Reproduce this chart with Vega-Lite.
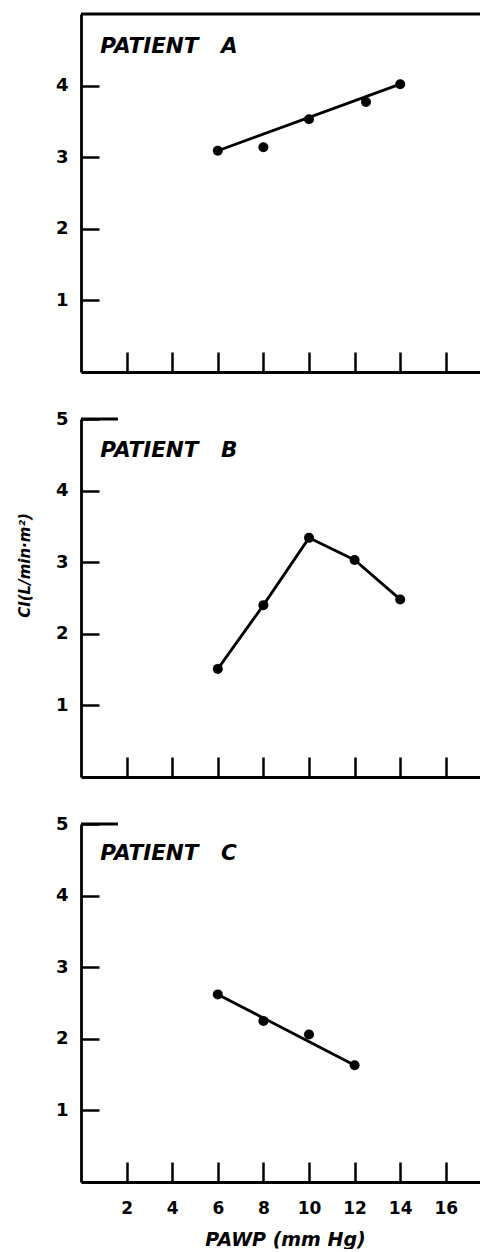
{
  "$schema": "https://vega.github.io/schema/vega-lite/v6.json",
  "background": "white",
  "padding": {"left": 17, "top": 12, "right": 0, "bottom": 0},
  "spacing": 47,
  "bounds": "flush",
  "datasets": {
    "points": [
      {"patient": "A", "pawp": 6, "ci": 3.09},
      {"patient": "A", "pawp": 8, "ci": 3.14},
      {"patient": "A", "pawp": 10, "ci": 3.53},
      {"patient": "A", "pawp": 12.5, "ci": 3.77},
      {"patient": "A", "pawp": 14, "ci": 4.02},
      {"patient": "B", "pawp": 6, "ci": 1.51},
      {"patient": "B", "pawp": 8, "ci": 2.40},
      {"patient": "B", "pawp": 10, "ci": 3.34},
      {"patient": "B", "pawp": 12, "ci": 3.03},
      {"patient": "B", "pawp": 14, "ci": 2.48},
      {"patient": "C", "pawp": 6, "ci": 2.62},
      {"patient": "C", "pawp": 8, "ci": 2.25},
      {"patient": "C", "pawp": 10, "ci": 2.06},
      {"patient": "C", "pawp": 12, "ci": 1.63}
    ],
    "lines": [
      {"patient": "A", "pawp": 6, "ci": 3.09},
      {"patient": "A", "pawp": 14, "ci": 4.02},
      {"patient": "B", "pawp": 6, "ci": 1.51},
      {"patient": "B", "pawp": 8, "ci": 2.40},
      {"patient": "B", "pawp": 10, "ci": 3.34},
      {"patient": "B", "pawp": 12, "ci": 3.03},
      {"patient": "B", "pawp": 14, "ci": 2.48},
      {"patient": "C", "pawp": 6, "ci": 2.62},
      {"patient": "C", "pawp": 12, "ci": 1.63}
    ],
    "labels": [
      {"patient": "A", "label": "PATIENT\u00a0\u00a0\u00a0A"},
      {"patient": "B", "label": "PATIENT\u00a0\u00a0\u00a0B"},
      {"patient": "C", "label": "PATIENT\u00a0\u00a0\u00a0C"}
    ]
  },
  "vconcat": [
    {
      "width": 399,
      "height": 358,
      "layer": [
        {
          "data": {"name": "lines"},
          "transform": [{"filter": "datum.patient === 'A'"}],
          "mark": {"type": "line", "color": "black", "strokeWidth": 2.8},
          "encoding": {
            "x": {"field": "pawp", "type": "quantitative", "scale": {"domain": [0, 17.5], "nice": false, "zero": false},
                  "axis": {"values": [2, 4, 6, 8, 10, 12, 14, 16], "labels": false, "title": null}},
            "y": {"field": "ci", "type": "quantitative", "scale": {"domain": [0, 5], "nice": false},
                  "axis": {"values": [1, 2, 3, 4], "format": "d", "title": null}}
          }
        },
        {
          "data": {"name": "points"},
          "transform": [{"filter": "datum.patient === 'A'"}],
          "mark": {"type": "point", "filled": true, "color": "black", "opacity": 1, "size": 100},
          "encoding": {
            "x": {"field": "pawp", "type": "quantitative", "title": null},
            "y": {"field": "ci", "type": "quantitative", "title": null}
          }
        },
        {
          "data": {"name": "labels"},
          "transform": [{"filter": "datum.patient === 'A'"}],
          "mark": {"type": "text", "align": "left", "baseline": "alphabetic", "font": "DejaVu Sans", "fontStyle": "italic", "fontWeight": "bold", "fontSize": 21.5, "color": "black"},
          "encoding": {
            "x": {"datum": 0.84, "type": "quantitative", "title": null},
            "y": {"datum": 4.46, "type": "quantitative", "title": null},
            "text": {"field": "label"}
          }
        },
        {
          "data": {"name": "labels"},
          "transform": [{"filter": "datum.patient === 'A'"}],
          "mark": {"type": "rule", "color": "black", "strokeWidth": 2.8},
          "encoding": {
            "x": {"datum": 0, "type": "quantitative", "title": null},
            "x2": {"datum": 17.5},
            "y": {"datum": 5, "type": "quantitative", "title": null}
          }
        }
      ]
    },
    {
      "width": 399,
      "height": 358,
      "layer": [
        {
          "data": {"name": "lines"},
          "transform": [{"filter": "datum.patient === 'B'"}],
          "mark": {"type": "line", "color": "black", "strokeWidth": 2.8},
          "encoding": {
            "x": {"field": "pawp", "type": "quantitative", "scale": {"domain": [0, 17.5], "nice": false, "zero": false},
                  "axis": {"values": [2, 4, 6, 8, 10, 12, 14, 16], "labels": false, "title": null}},
            "y": {"field": "ci", "type": "quantitative", "scale": {"domain": [0, 5], "nice": false},
                  "title": "CI(L/min·m²)",
                  "axis": {"values": [1, 2, 3, 4, 5], "format": "d", "titleX": -57, "titleY": 146,
                           "titleAngle": -90, "titleAlign": "center", "titleBaseline": "middle", "titleFontSize": 15}}
          }
        },
        {
          "data": {"name": "points"},
          "transform": [{"filter": "datum.patient === 'B'"}],
          "mark": {"type": "point", "filled": true, "color": "black", "opacity": 1, "size": 100},
          "encoding": {
            "x": {"field": "pawp", "type": "quantitative", "title": null},
            "y": {"field": "ci", "type": "quantitative", "title": "CI(L/min·m²)"}
          }
        },
        {
          "data": {"name": "labels"},
          "transform": [{"filter": "datum.patient === 'B'"}],
          "mark": {"type": "text", "align": "left", "baseline": "alphabetic", "font": "DejaVu Sans", "fontStyle": "italic", "fontWeight": "bold", "fontSize": 21.5, "color": "black"},
          "encoding": {
            "x": {"datum": 0.84, "type": "quantitative", "title": null},
            "y": {"datum": 4.47, "type": "quantitative", "title": "CI(L/min·m²)"},
            "text": {"field": "label"}
          }
        },
        {
          "data": {"name": "labels"},
          "transform": [{"filter": "datum.patient === 'B'"}],
          "mark": {"type": "rule", "color": "black", "strokeWidth": 2.8},
          "encoding": {
            "x": {"datum": 0, "type": "quantitative", "title": null},
            "x2": {"datum": 1.62},
            "y": {"datum": 5, "type": "quantitative", "title": "CI(L/min·m²)"}
          }
        }
      ]
    },
    {
      "width": 399,
      "height": 358,
      "layer": [
        {
          "data": {"name": "lines"},
          "transform": [{"filter": "datum.patient === 'C'"}],
          "mark": {"type": "line", "color": "black", "strokeWidth": 2.8},
          "encoding": {
            "x": {"field": "pawp", "type": "quantitative", "scale": {"domain": [0, 17.5], "nice": false, "zero": false},
                  "title": "PAWP (mm Hg)",
                  "axis": {"values": [2, 4, 6, 8, 10, 12, 14, 16], "format": "d", "titleFontSize": 19,
                           "titleX": 204, "titleY": 48, "titleBaseline": "top", "titleAlign": "center"}},
            "y": {"field": "ci", "type": "quantitative", "scale": {"domain": [0, 5], "nice": false},
                  "axis": {"values": [1, 2, 3, 4, 5], "format": "d", "title": null}}
          }
        },
        {
          "data": {"name": "points"},
          "transform": [{"filter": "datum.patient === 'C'"}],
          "mark": {"type": "point", "filled": true, "color": "black", "opacity": 1, "size": 100},
          "encoding": {
            "x": {"field": "pawp", "type": "quantitative", "title": "PAWP (mm Hg)"},
            "y": {"field": "ci", "type": "quantitative", "title": null}
          }
        },
        {
          "data": {"name": "labels"},
          "transform": [{"filter": "datum.patient === 'C'"}],
          "mark": {"type": "text", "align": "left", "baseline": "alphabetic", "font": "DejaVu Sans", "fontStyle": "italic", "fontWeight": "bold", "fontSize": 21.5, "color": "black"},
          "encoding": {
            "x": {"datum": 0.84, "type": "quantitative", "title": "PAWP (mm Hg)"},
            "y": {"datum": 4.5, "type": "quantitative", "title": null},
            "text": {"field": "label"}
          }
        },
        {
          "data": {"name": "labels"},
          "transform": [{"filter": "datum.patient === 'C'"}],
          "mark": {"type": "rule", "color": "black", "strokeWidth": 2.8},
          "encoding": {
            "x": {"datum": 0, "type": "quantitative", "title": "PAWP (mm Hg)"},
            "x2": {"datum": 1.62},
            "y": {"datum": 5, "type": "quantitative", "title": null}
          }
        }
      ]
    }
  ],
  "config": {
    "view": {"stroke": null},
    "axis": {
      "grid": false,
      "domainColor": "black",
      "domainWidth": 2.8,
      "tickColor": "black",
      "tickWidth": 2.5,
      "labelFont": "DejaVu Sans",
      "labelFontWeight": "bold",
      "labelFontSize": 17,
      "labelColor": "black",
      "titleFont": "DejaVu Sans",
      "titleFontStyle": "italic",
      "titleFontWeight": "bold",
      "titleColor": "black"
    },
    "axisX": {"tickSize": -20, "labelPadding": 38, "labelFlush": false},
    "axisY": {"tickSize": -18, "labelPadding": 31, "labelFlush": false, "labelFontSize": 18}
  }
}
